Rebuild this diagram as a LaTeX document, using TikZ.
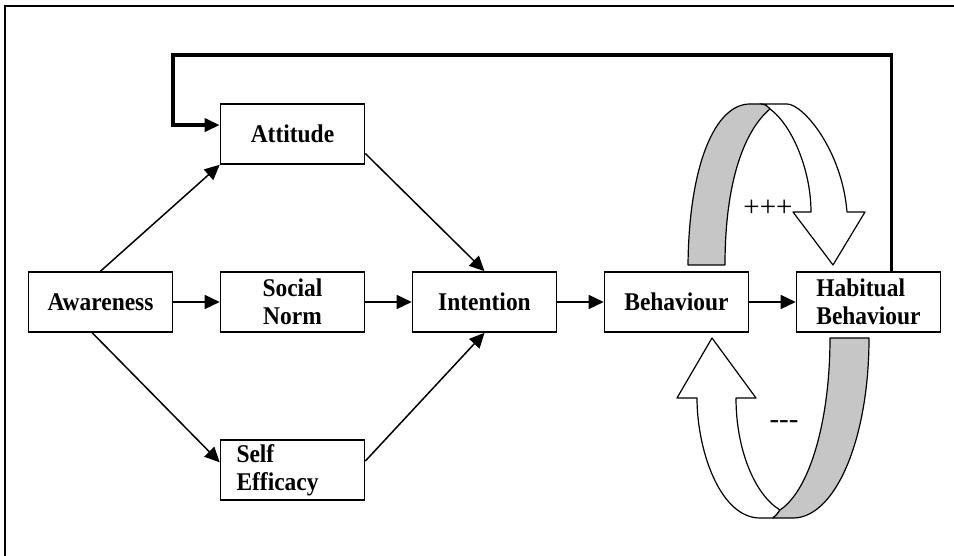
\documentclass[tikz,border=0pt]{standalone}
\usepackage{fontspec}
\setmainfont{Liberation Serif}
\newfontfamily\boxfont{Liberation Serif}[FakeStretch=0.92]
\usetikzlibrary{arrows.meta}
\tikzstyle{block} = [rectangle, minimum width=144pt, minimum height=60pt, inner ysep=2pt, align=center, draw=black, fill=white, line width=1.6pt, font=\boxfont\bfseries\fontsize{25.5}{28}\selectfont]
\tikzstyle{arrow} = [line width=1.5pt, -{Triangle[length=15pt,width=14pt]}]
\tikzstyle{feedback} = [line width=3.5pt, -{Triangle[length=15pt,width=13pt]}]
\tikzstyle{ribbon} = [draw=black, line width=1.2pt, line join=round]
\tikzstyle{sign} = [font=\fontsize{29}{32}\selectfont]

\begin{document}
\begin{tikzpicture}[x=1pt, y=-1pt, node distance=192pt]
\useasboundingbox (0,0) rectangle (954,556);
\draw [line width=2.5pt] (5,556) |- (954,6);

\node (aw) [block] at (100.5,302) {Awareness};
\node (sn) [block, right of=aw] {Social\\Norm};
\node (int) [block, right of=sn] {Intention};
\node (beh) [block, right of=int] {Behaviour};
\node (hab) [block, right of=beh, align=left] {Habitual\\Behaviour};
\node (att) [block, above of=sn, node distance=168pt] {Attitude};
\node (se) [block, below of=sn, node distance=168pt, text width=112pt, align=left] {Self\\Efficacy};

\draw [arrow] (aw) -- (sn);
\draw [arrow] (sn) -- (int);
\draw [arrow] (int) -- (beh);
\draw [arrow] (beh) -- (hab);
\draw [arrow] (aw.north) -- (att.south west);
\draw [arrow] (att.-15) -- (int.north);
\draw [arrow] (aw.255) -- (se.174);
\draw [arrow] (se.7) -- (int.south);
\draw [feedback] (hab.53) |- (173,55) |- (att.173);

% upper ribbon (+++)
\draw [ribbon, fill=white] (760,104) -- (787,104) .. controls (803,104) and (842,150) .. (847,212)
  -- (865,212) -- (833,265) -- (793,212) -- (811,212)
  .. controls (811,170) and (792,125) .. (770,109) .. controls (768,106) and (765,104) .. (760,104) -- cycle;
\draw [ribbon, fill=gray!45] (688,265) .. controls (689,165) and (715,104) .. (750,104) -- (760,104)
  .. controls (765,104) and (768,106) .. (770,109) .. controls (745,130) and (725,180) .. (725,265) -- cycle;
\node (plus) [sign] at (768,208) {+++};

% lower ribbon (---)
\draw [ribbon, fill=white] (773,518) -- (760,518) .. controls (720,518) and (697,450) .. (697,398)
  -- (677,398) -- (712,338) -- (756,398) -- (736,398)
  .. controls (736,450) and (755,495) .. (780,510) .. controls (778,513) and (776,516) .. (773,518) -- cycle;
\draw [ribbon, fill=gray!45] (830,338) -- (869,338) .. controls (869,440) and (835,518) .. (793,518) -- (773,518)
  .. controls (776,516) and (778,513) .. (780,510) .. controls (810,490) and (830,420) .. (830,338) -- cycle;
\node (minus) [sign] at (784,425) {-{}-{}-};
\end{tikzpicture}
\end{document}
